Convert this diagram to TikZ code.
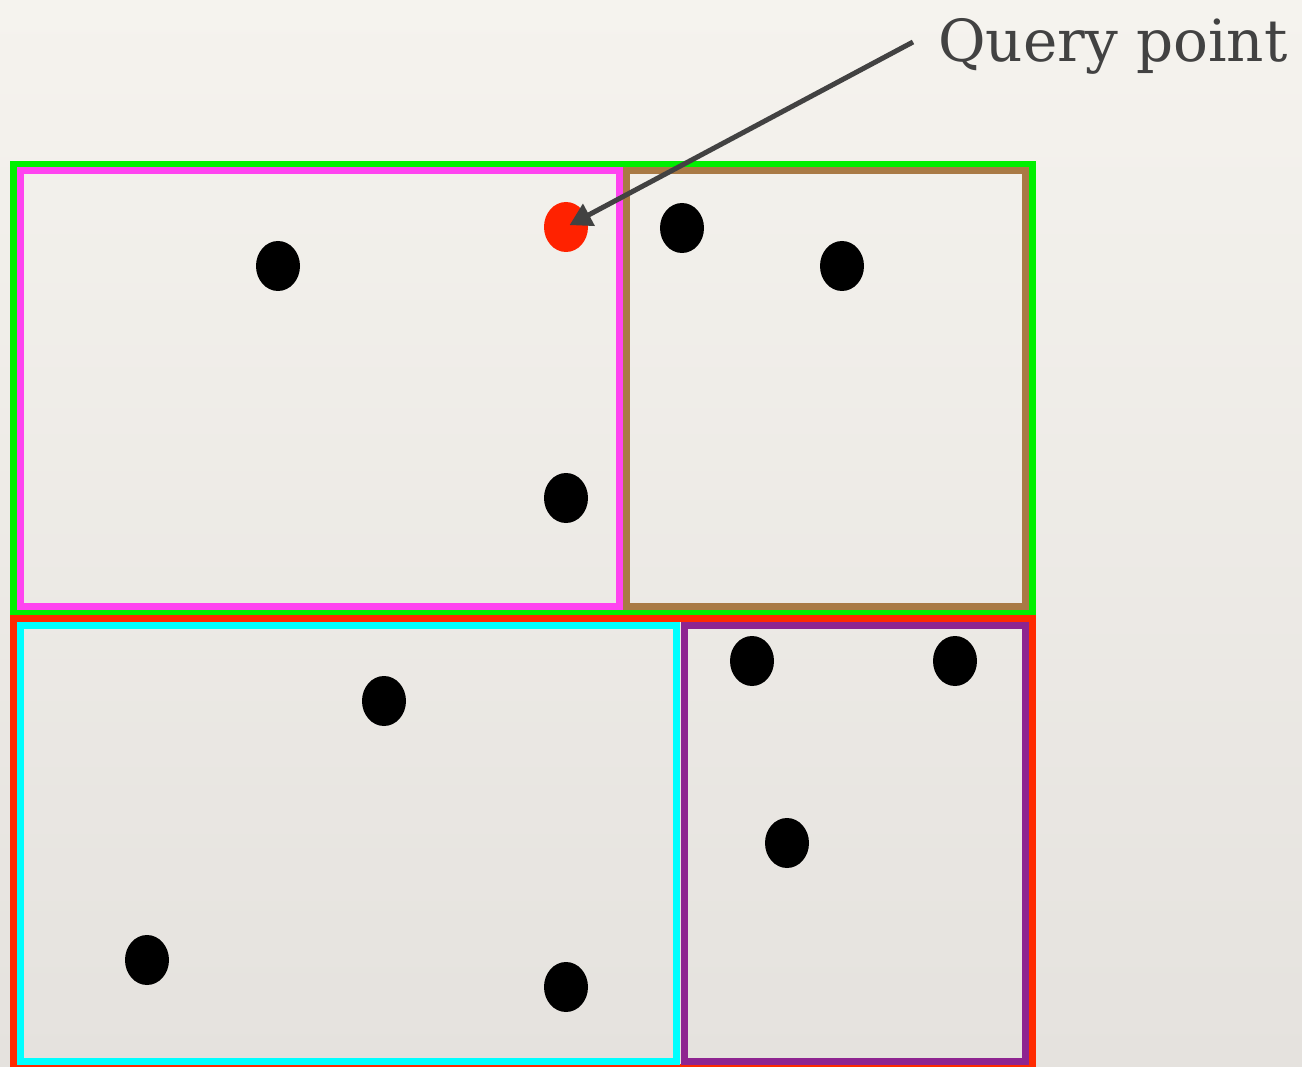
\documentclass[tikz,border=0pt]{standalone}
\usepackage{fontspec}
\newfontfamily\lblfont{DejaVu Serif}
\usetikzlibrary{shapes.geometric,arrows.meta}
\definecolor{bgtop}{HTML}{F5F3EE}
\definecolor{bgbot}{HTML}{E5E2DE}
\definecolor{cgreen}{HTML}{00F000}
\definecolor{cmag}{HTML}{FF44F0}
\definecolor{cbrown}{HTML}{A97A45}
\definecolor{cred}{HTML}{FF2A00}
\definecolor{ccyan}{HTML}{00FFFF}
\definecolor{cpurp}{HTML}{8E2490}
\definecolor{cdot}{HTML}{FF2200}
\definecolor{cgray}{HTML}{424242}
\begin{document}
\begin{tikzpicture}[x=1pt,y=-1pt,
  box/.style={line width=7pt},
  pt/.style={ellipse,fill=black,inner sep=0pt,minimum width=44pt,minimum height=50pt},
  qpt/.style={pt,fill=cdot},
  lbl/.style={text=cgray,font=\lblfont\fontsize{58}{68}\selectfont,inner sep=0pt,anchor=base west},
  arr/.style={cgray,line width=5pt,-{Triangle[length=22pt,width=24pt]}}]
\useasboundingbox (0,0) rectangle (1302,1067);
\shade[top color=bgtop,bottom color=bgbot] (0,0) rectangle (1302,1067);
\begin{scope}
\clip (0,0) rectangle (1302,1067);
\draw[box,cgreen] (13.5,164.5) rectangle (1032.5,612);
\draw[box,cred] (13.5,618) rectangle (1032.5,1067);
\draw[box,cmag] (20.5,170.5) rectangle (619,606);
\draw[box,cbrown] (626,170.5) rectangle (1025.5,606);
\draw[box,ccyan] (20.5,625) rectangle (676,1061);
\draw[box,cpurp] (684,625) rectangle (1025.5,1061);
\end{scope}
\node[pt] (p1) at (278,266) {};
\node[qpt] (q) at (566,227) {};
\node[pt] (p2) at (566,498) {};
\node[pt] (p3) at (682,228) {};
\node[pt] (p4) at (842,266) {};
\node[pt] (p5) at (384,701) {};
\node[pt] (p6) at (147,960) {};
\node[pt] (p7) at (566,987) {};
\node[pt] (p8) at (752,661) {};
\node[pt] (p9) at (955,661) {};
\node[pt] (p10) at (787,843) {};
\node[lbl] (lab) at (938,62) {Query point};
\coordinate (as) at (913,42);
\draw[arr] (as) -- (q.center) [shorten >=4pt];
\end{tikzpicture}
\end{document}
